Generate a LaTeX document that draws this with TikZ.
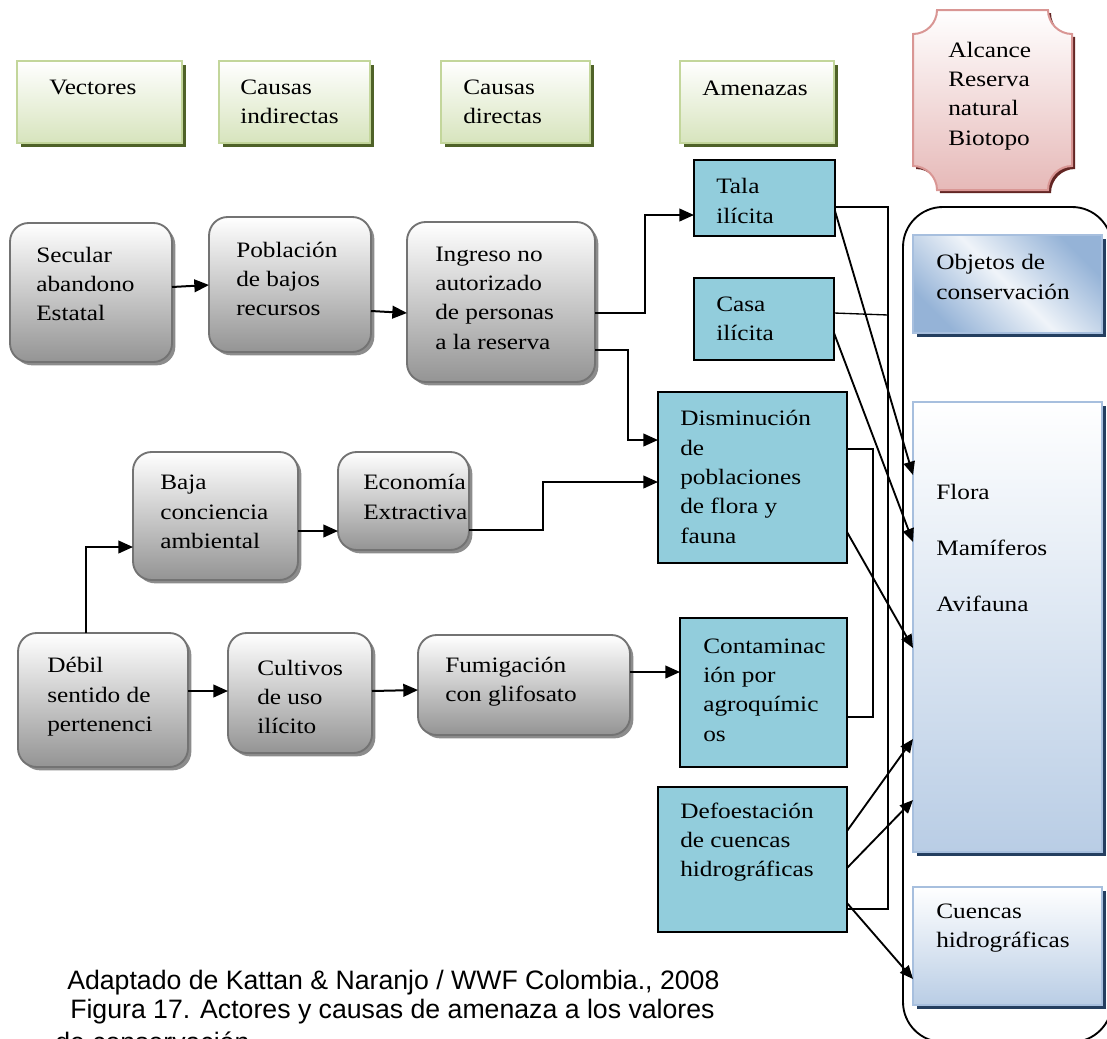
\documentclass[tikz,border=0pt]{standalone}
\usepackage{fontspec}
\setmainfont{Liberation Serif}[FakeStretch=1.15]
\newfontfamily\capfont{Liberation Sans}
\usetikzlibrary{arrows.meta,shadows}
\definecolor{hdrbot}{HTML}{D7E4BD}
\definecolor{hdrline}{HTML}{C3D69B}
\definecolor{hdrshadow}{HTML}{4F6228}
\definecolor{amenblue}{HTML}{92CDDC}
\definecolor{pinkbot}{HTML}{E6B9B8}
\definecolor{pinkline}{HTML}{D99694}
\definecolor{pinkshadow}{HTML}{632523}
\definecolor{objblue}{HTML}{95B3D7}
\definecolor{objline}{HTML}{A7BFDE}
\definecolor{objshadow}{HTML}{243F60}
\definecolor{florabot}{HTML}{B9CDE5}
\newcommand\mybox[6]{\node[#2, minimum width={(#5-(#3))*0.75pt}, minimum height={(#6-(#4))*0.75pt}] (#1) at ({(#3+#5)/2},{(#4+#6)/2}) {};}
\newcommand\plaquepath{(937,10) -- (1048,10) .. controls (1048,23.2) and (1058.8,34) .. (1072,34) -- (1072,166) .. controls (1058.8,166) and (1048,176.8) .. (1048,190) -- (937,190) .. controls (937,176.8) and (926.2,166) .. (913,166) -- (913,34) .. controls (926.2,34) and (937,23.2) .. (937,10) -- cycle}
\tikzset{
  boxbase/.style={inner sep=0pt, outer sep=0pt},
  hdr/.style={boxbase, draw=hdrline, line width=1.5pt, top color=white, bottom color=hdrbot,
    general shadow={fill=hdrshadow, shadow xshift=3pt, shadow yshift=-3pt}},
  graybox/.style={boxbase, draw=black!55, line width=1.4pt, rounded corners=14pt, top color=white, bottom color=black!42,
    general shadow={fill=black!45, shadow xshift=2.5pt, shadow yshift=-2.5pt}},
  amen/.style={boxbase, draw=black, line width=1.3pt, fill=amenblue},
  objbox/.style={boxbase, draw=objline, line width=1.5pt, top color=objblue, bottom color=objblue, middle color=white!85!objblue, shading angle=-45,
    general shadow={fill=objshadow, shadow xshift=3pt, shadow yshift=-3pt}},
  florabox/.style={boxbase, draw=objline, line width=1.5pt, top color=white, bottom color=florabot,
    general shadow={fill=objshadow, shadow xshift=3pt, shadow yshift=-3pt}},
  txt/.style={anchor=west, align=left, inner sep=0pt, font=\fontsize{16.5}{22}\selectfont},
  captxt/.style={anchor=west, align=left, inner sep=0pt, font=\capfont\fontsize{20}{22}\selectfont},
  arr/.style={line width=1.5pt, -{Triangle[length=11pt,width=9.5pt]}},
  arrd/.style={line width=1.4pt, -{Triangle[length=10pt,width=8.5pt]}},
  thinln/.style={line width=1pt},
}
\begin{document}
\begin{tikzpicture}[x=0.75pt,y=-0.75pt]
\useasboundingbox (0,0) rectangle (1107,1039);
% header boxes
\mybox{hVec}{hdr}{17}{61}{182}{143}
\mybox{hInd}{hdr}{219}{61}{370}{143}
\mybox{hDir}{hdr}{441}{61}{590}{143}
\mybox{hAme}{hdr}{680}{61}{834}{143}
\node[txt] (tVec) at (49,87) {Vectores};
\node[txt] (tInd) at (240,102) {Causas\\indirectas};
\node[txt] (tDir) at (463,102) {Causas\\directas};
\node[txt] (tAme) at (702,88) {Amenazas};
% plaque
\fill[pinkshadow, shift={(3,3)}] \plaquepath;
\path[draw=pinkline, line width=1.5pt, top color=white, bottom color=pinkbot] \plaquepath;
\node[txt] (alcance) at (948,96) {Alcance\\Reserva\\natural\\Biotopo};
% gray boxes
\mybox{secular}{graybox}{10}{223}{172}{362}
\mybox{poblacion}{graybox}{209}{217}{371}{352}
\mybox{ingreso}{graybox}{407}{222}{595}{382}
\mybox{baja}{graybox}{133}{452}{298}{580}
\mybox{economia}{graybox}{338}{452}{469}{550}
\mybox{debil}{graybox}{18}{633}{188}{767}
\mybox{cultivos}{graybox}{228}{633}{372}{753}
\mybox{fumigacion}{graybox}{418}{635}{630}{735}
\node[txt] (tSec) at (36,284) {Secular\\abandono\\Estatal};
\node[txt] (tPob) at (236,279) {Población\\de bajos\\recursos};
\node[txt] (tIng) at (435,298) {Ingreso no\\autorizado\\de personas\\a la reserva};
\node[txt] (tBaja) at (160,512) {Baja\\conciencia\\ambiental};
\node[txt] (tEco) at (363,497) {Economía\\Extractiva};
\node[txt] (tDeb) at (47,697) {Débil\\sentido de\\pertenenci};
\node[txt] (tCul) at (257,697) {Cultivos\\de uso\\ilícito};
\node[txt] (tFum) at (445,682) {Fumigación\\con glifosato};
% amenazas
\mybox{tala}{amen}{694}{160}{835}{236}
\mybox{casa}{amen}{694}{278}{834}{360}
\mybox{dismin}{amen}{658}{392}{847}{563}
\mybox{contam}{amen}{680}{618}{847}{767}
\mybox{defo}{amen}{658}{787}{847}{932}
\node[txt] (tTala) at (716,201) {Tala\\ilícita};
\node[txt] (tCasa) at (716,319) {Casa\\ilícita};
\node[txt] (tDis) at (680,477) {Disminución\\de\\poblaciones\\de flora y\\fauna};
\node[txt] (tCon) at (703,690) {Contaminac\\ión por\\agroquímic\\os};
\node[txt] (tDef) at (680,842) {Defoestación\\de cuencas\\hidrográficas};
% right side
\draw[line width=1.4pt, rounded corners=30pt] (903,207) rectangle (1112,1042);
\mybox{objetos}{objbox}{913}{235}{1102}{333}
\mybox{flora}{florabox}{913}{402}{1102}{852}
\mybox{cuencas}{florabox}{913}{887}{1102}{1005}
\node[txt] (tObj) at (936,277) {Objetos de\\conservación};
\node[txt, font=\fontsize{16.5}{42}\selectfont] (tFlo) at (936,548) {Flora\\Mamíferos\\Avifauna};
\node[txt] (tCue) at (936,928) {Cuencas\\hidrográficas};
% connectors
\draw[arr] (secular.east |- 0,287) -- (poblacion.west |- 0,285);
\draw[arr] (poblacion.east |- 0,311) -- (ingreso.west |- 0,313);
\draw[arr] (ingreso.east |- 0,313) -| (645,215) -- (tala.west |- 0,215);
\draw[arr] (ingreso.east |- 0,350) -| (628,440) -- (dismin.west |- 0,440);
\draw[arr] (economia.east |- 0,530) -| (543,482) -- (dismin.west |- 0,482);
\draw[arr] (baja.east |- 0,531) -- (economia.west |- 0,531);
\draw[arr] (debil.north -| 86,0) |- (baja.west |- 0,547);
\draw[arr] (debil.east |- 0,691) -- (cultivos.west |- 0,691);
\draw[arr] (cultivos.east |- 0,691) -- (fumigacion.west |- 0,690);
\draw[arr] (fumigacion.east |- 0,672) -- (contam.west |- 0,672);
% thin bracket lines
\draw[thinln] (tala.east |- 0,207) -| (888,909) -- (defo.east |- 0,909);
\draw[thinln] (casa.east |- 0,313) -- (888,315);
\draw[thinln] (dismin.east |- 0,449) -| (873,717) -- (contam.east |- 0,717);
% diagonal arrows
\draw[arrd] (tala.east |- 0,211) -- (flora.west |- 0,475);
\draw[arrd] (casa.east |- 0,333) -- (flora.west |- 0,542);
\draw[arrd] (dismin.east |- 0,532) -- (flora.west |- 0,648);
\draw[arrd] (defo.east |- 0,831) -- (flora.west |- 0,739);
\draw[arrd] (defo.east |- 0,868) -- (flora.west |- 0,800);
\draw[arrd] (defo.east |- 0,903) -- (cuencas.west |- 0,979);
% caption
\node[captxt] (cap1) at (67,983) {Adaptado de Kattan \& Naranjo / WWF Colombia., 2008};
\node[captxt] (cap2) at (70,1012) {Figura 17. Actores y causas de amenaza a los valores};
\node[captxt] (cap3) at (55,1042) {de conservación};
\end{tikzpicture}
\end{document}
